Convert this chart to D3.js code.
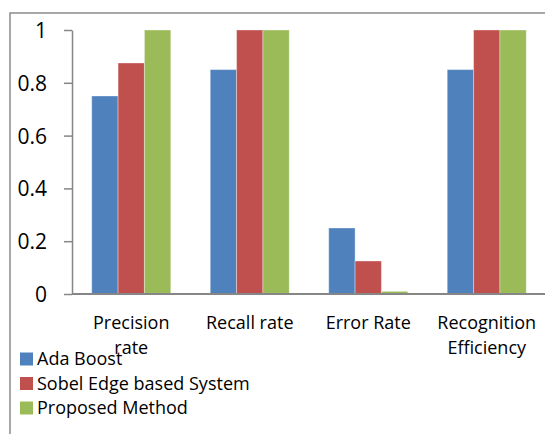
<!DOCTYPE html>
<html><head><meta charset="utf-8">
<script src="https://cdn.jsdelivr.net/npm/d3@7"></script>
<style>body{margin:0;background:#fff}svg{display:block}</style>
</head><body><svg id="c" width="545" height="434"></svg>
<script>
const categories = [["Precision","rate"],["Recall rate"],["Error Rate"],["Recognition","Efficiency"]];
const seriesNames = ["Ada Boost","Sobel Edge based System","Proposed Method"];
const adaBoost = [0.75, 0.85, 0.25, 0.85];
const sobelEdge = [0.875, 1, 0.125, 1];
const proposed = [1, 1, 0.01, 1];
const yTicks = [0, 0.2, 0.4, 0.6, 0.8, 1];
const colors = ["#4F81BD","#C0504D","#9BBB59"];
const series = [adaBoost, sobelEdge, proposed];

const svg = d3.select("#c");
const font = "'Open Sans', sans-serif";
// outer frame
svg.append("path").attr("d","M10,440 V13 H560").attr("fill","none").attr("stroke","#8c8c8c").attr("stroke-width",1.5);

const x0 = d3.scaleBand().domain(d3.range(categories.length)).range([72,546]).paddingInner(0.333).paddingOuter(0.1665);
const x1 = d3.scaleBand().domain(d3.range(series.length)).range([0, x0.bandwidth()]);
const y = d3.scaleLinear().domain([0,1]).range([294,30]);

// bars
series.forEach((s,si)=>{
  svg.append("g").selectAll("rect").data(s).join("rect")
    .attr("x",(d,i)=>x0(i)+x1(si))
    .attr("y",d=>y(d))
    .attr("width",x1.bandwidth())
    .attr("height",d=>y(0)-y(d))
    .attr("fill",colors[si])
    .attr("stroke","rgba(255,255,255,0.35)").attr("stroke-width",1);
});

// y axis
const ya = svg.append("g").attr("transform","translate(72,0)")
  .call(d3.axisLeft(y).tickValues(yTicks).tickSize(8).tickSizeOuter(0).tickFormat(d=>String(d)));
ya.select(".domain").attr("stroke","#868686").attr("stroke-width",1.5);
ya.selectAll(".tick line").attr("stroke","#868686").attr("stroke-width",1.5);
ya.selectAll(".tick text").attr("x",-25).attr("font-size",21).attr("font-family",font).attr("fill","#000").attr("dy","0.36em");

// x axis
svg.append("line").attr("x1",72).attr("x2",546).attr("y1",y(0)).attr("y2",y(0)).attr("stroke","#868686").attr("stroke-width",2);

// category labels
categories.forEach((lines,i)=>{
  const cx = x0(i)+x0.bandwidth()/2;
  lines.forEach((t,j)=>{
    svg.append("text").attr("x",cx).attr("y",329+j*25).attr("text-anchor","middle")
      .attr("font-size",18).attr("font-family",font).attr("fill","#000").text(t);
  });
});

// legend
seriesNames.forEach((n,i)=>{
  const cy = 359 + i*24.5;
  svg.append("rect").attr("x",20).attr("y",cy-6.5).attr("width",13).attr("height",13).attr("fill",colors[i]);
  svg.append("text").attr("x",37).attr("y",cy+6).attr("font-size",18).attr("font-family",font).attr("fill","#000").text(n);
});
</script></body></html>
